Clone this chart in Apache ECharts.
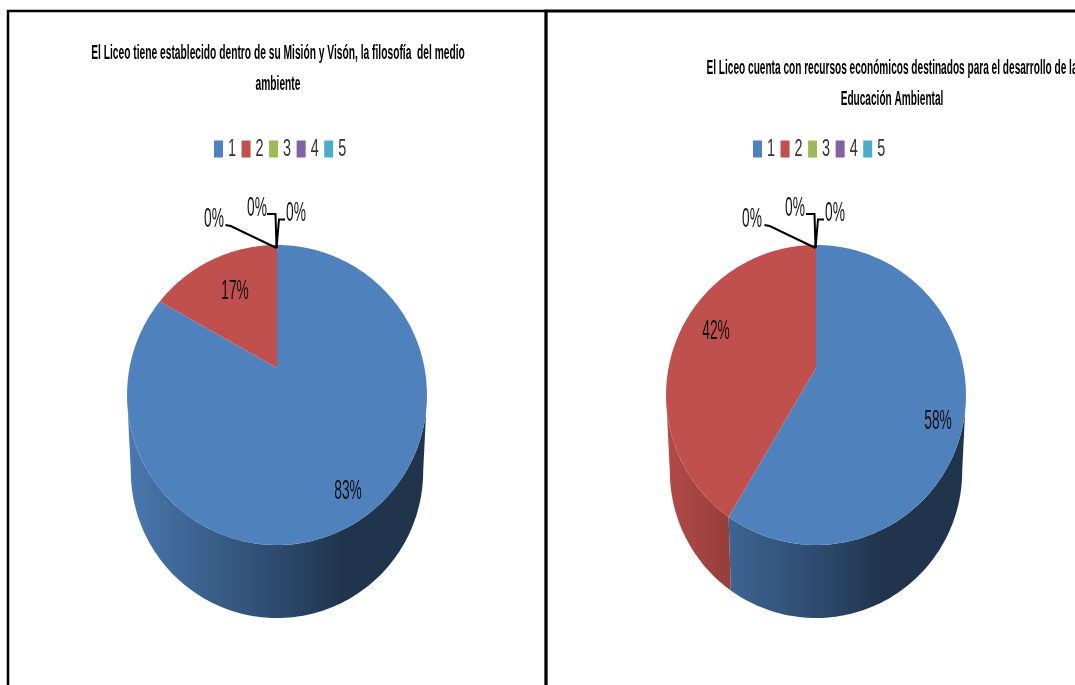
<!DOCTYPE html>
<html><head><meta charset="utf-8">
<style>html,body{margin:0;padding:0;background:#fff;overflow:hidden}#c{width:1075px;height:685px}</style>
<script src="https://cdn.jsdelivr.net/npm/echarts@6/dist/echarts.min.js"></script>
</head><body><div id="c"></div>
<script>
const categories = ['1','2','3','4','5'];
const valuesLeft = [10,2,0,0,0];
const valuesRight = [7,5,0,0,0];
const titleLeft = 'El Liceo tiene establecido dentro de su Misión y Visón, la filosofía  del medio\nambiente';
const titleRight = 'El Liceo cuenta con recursos económicos destinados para el desarrollo de la\nEducación Ambiental';
const colors = ['#4f81bd','#c0504d','#9bbb59','#8064a2','#4bacc6'];
const FONT = '"Liberation Sans",sans-serif';

const panels = [
  {values:valuesLeft, cx:277, title:titleLeft, titleX:273, titleY:33, legendX:209, titleScale:.512,
   labels:[[348,491],[235,291],[214,219],[257,208],[296,213]]},
  {values:valuesRight, cx:816, title:titleRight, titleX:887, titleY:48, legendX:748, titleScale:.505,
   labels:[[938,421],[716,331],[752,219],[795,208],[835,213]]}
];
const CY = 395, R = 150, XR = 147.5, SHIFT = 27, K = 0.18;
const WALL_CY = 471, WALL_SX = 0.975, WALL_SY = 0.98;
const LABEL_SCALE = .49, LEGEND_SCALE = .6;

// Perspective projection of the pie's disc: the picture's apex sits above the ellipse centre.
function project(theta){
  const x = Math.sin(theta), y = Math.cos(theta), d = 1 + K*y;
  return [x*XR/d, (R*y + SHIFT)/d];
}
function arc(from,to,map){
  const n = Math.max(2, Math.ceil((to-from)/0.02)), pts = [];
  for(let i=0;i<=n;i++){ pts.push(map(from+(to-from)*i/n)); }
  return pts;
}
function shade(hex,f){
  const v=parseInt(hex.slice(1),16);
  const c=s=>Math.round(((v>>s)&255)*f);
  return `rgb(${c(16)},${c(8)},${c(0)})`;
}
const WALL_STOPS=[[0,.92],[.24,.75],[.5,.58],[.72,.41],[1,.4]];

function bodySeries(p,pi){
  const total=p.values.reduce((a,b)=>a+b,0);
  let acc=0;
  const rows=p.values.map((v,i)=>{const s=acc/total*Math.PI*2;acc+=v;return [s,acc/total*Math.PI*2,i];});
  const visFrom=100.4*Math.PI/180, visTo=259.6*Math.PI/180;
  return {
    type:'custom', name:'cuerpo'+pi, coordinateSystem:'none', silent:true, z:1,
    data:rows,
    renderItem(params,api){
      const a=api.value(0), b=api.value(1), idx=api.value(2);
      if(b<=a) return {type:'group',children:[]};
      const col=colors[idx];
      const top=t=>{const q=project(t);return [p.cx+q[0],CY-q[1]];};
      const bot=t=>{const q=project(t);return [p.cx+q[0]*WALL_SX,WALL_CY-q[1]*WALL_SY];};
      const children=[];
      const f=Math.max(a,visFrom), g=Math.min(b,visTo);
      if(g>f){
        const pts=arc(f,g,top).concat(arc(f,g,bot).reverse());
        children.push({type:'polygon',shape:{points:pts},z2:1,style:{fill:{
          type:'linear',global:true,x:p.cx-146,y:0,x2:p.cx+146,y2:0,
          colorStops:WALL_STOPS.map(s=>({offset:s[0],color:shade(col,s[1])}))
        }}});
      }
      children.push({type:'polygon',z2:5,shape:{points:[[p.cx,CY-SHIFT]].concat(arc(a,b,top))},style:{fill:col}});
      return {type:'group',children};
    }
  };
}
function pieSeries(p,pi){
  const lines=[[[225.5,225],[230.7,226],[276.5,248]],[[267,214],[275.5,214],[276.5,248]],[[285,219.5],[279,219.5],[276.5,248]]];
  const dx=p.cx-277;
  return {
    type:'pie', name:'panel'+pi, center:[p.cx,CY-SHIFT], radius:[0,R], clockwise:true, startAngle:90,
    silent:true, z:3, avoidLabelOverlap:false, stillShowZeroSum:true, minShowLabelAngle:0, percentPrecision:0,
    animation:false,
    data:categories.map((c,i)=>({name:c,value:p.values[i],itemStyle:{color:colors[i],opacity:0,borderWidth:0},
      label:{show:true,position:'outside',opacity:1},labelLine:{show:i>=2,length:6,length2:6,lineStyle:{color:'#000',width:2,opacity:1}}})),
    label:{formatter:'{d}%',color:'#111',fontFamily:FONT,fontSize:28},
    labelLayout(params){
      const i=params.dataIndex, l=p.labels[i];
      const w=params.labelRect.width,h=params.labelRect.height;
      const res={x:l[0]-w*LABEL_SCALE/2,y:l[1]-h/2,align:'left',verticalAlign:'top',hideOverlap:false};
      if(i>=2) res.labelLinePoints=lines[i-2].map(q=>[q[0]+dx,q[1]]);
      return res;
    }
  };
}
const chart=echarts.init(document.getElementById('c'),null,{renderer:'canvas'});
chart.setOption({
  animation:false,
  backgroundColor:'#fff',
  title:panels.map(p=>({text:p.title,left:p.titleX,top:p.titleY,textAlign:'center',
    textStyle:{fontFamily:FONT,fontWeight:'bold',fontSize:20,lineHeight:31,color:'#000'}})),
  legend:panels.map(p=>({data:categories,left:p.legendX,top:132,orient:'horizontal',selectedMode:false,
    icon:'rect',itemWidth:9,itemHeight:17,itemGap:0.2,itemStyle:{opacity:1},
    textStyle:{fontFamily:FONT,fontSize:24,color:'#333'}})),
  graphic:[
    {type:'rect',silent:true,z:10,shape:{x:8,y:11,width:538,height:700},style:{fill:'none',stroke:'#000',lineWidth:2.5}},
    {type:'rect',silent:true,z:10,shape:{x:546,y:11,width:560,height:700},style:{fill:'none',stroke:'#000',lineWidth:3}}
  ],
  series:panels.flatMap((p,i)=>[bodySeries(p,i),pieSeries(p,i)])
});

// The reference's lettering is tall and condensed; no narrow font is installed,
// so the library's own text elements are squeezed horizontally after layout.
function squeeze(el,s){
  el.originX=el.style&&el.style.x||0;
  el.scaleX=s;
  el.markRedraw&&el.markRedraw();
}
const titleScales=panels.map(p=>p.titleScale);
let titleSeen=0;
function walk(el){
  if(el.type==='text' && el.style){
    const t=String(el.style.text||'');
    if(t.indexOf('\n')>=0||t.indexOf('El Liceo')===0){ squeeze(el,titleScales[titleSeen++]||.51); }
    else if(categories.includes(t)){ squeeze(el,LEGEND_SCALE); }
  }
  if(el.getTextContent&&el.getTextContent()){
    const c=el.getTextContent();
    if(/%$/.test(String(c.style.text||''))){ squeeze(c,LABEL_SCALE); }
  }
  if(el.isGroup) el.eachChild(walk);
}
chart.getZr().storage.getRoots().forEach(walk);
chart.getZr().refresh();
</script></body></html>
